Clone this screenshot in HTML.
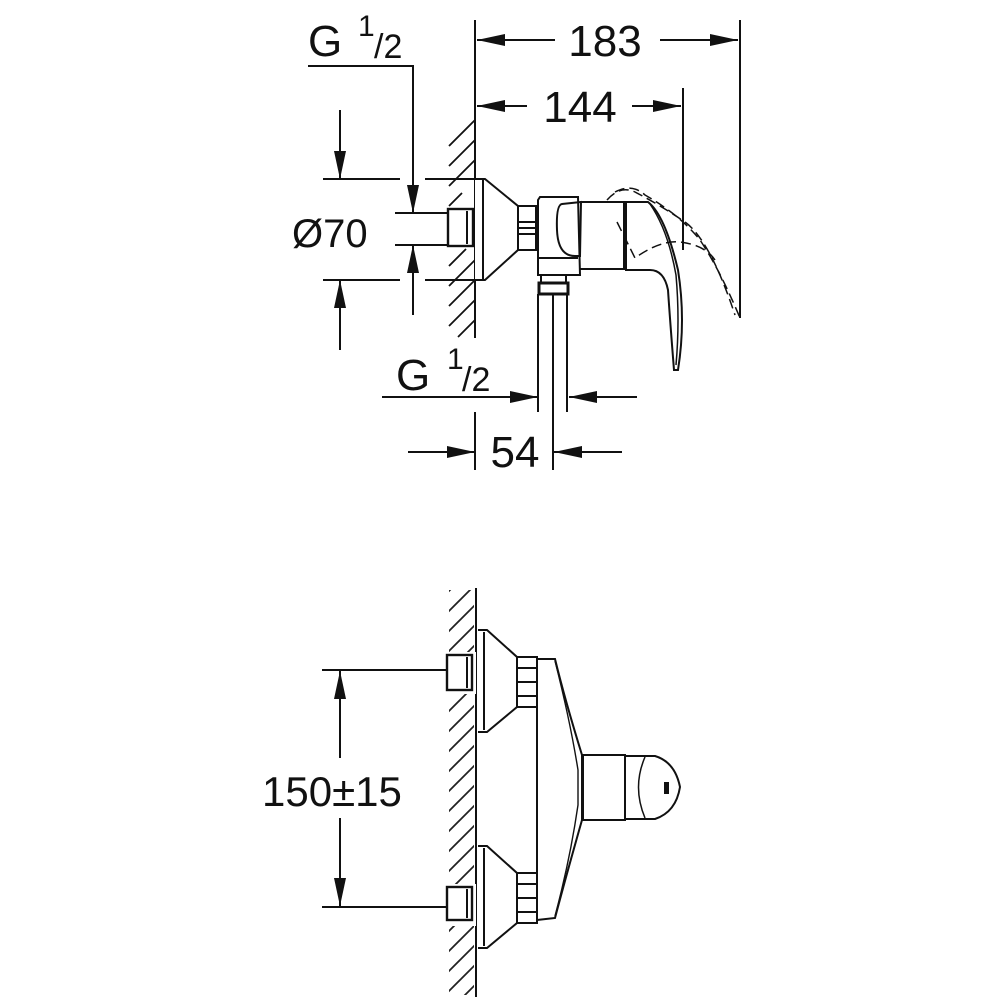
<!DOCTYPE html>
<html><head><meta charset="utf-8"><style>html,body{margin:0;padding:0;background:#fff}svg{display:block}text{font-family:"Liberation Sans",sans-serif;fill:#111}</style></head><body>
<svg width="1000" height="1000" viewBox="0 0 1000 1000" xmlns="http://www.w3.org/2000/svg">
<defs>
<marker id="a" viewBox="0 0 28 12" refX="28" refY="6" markerWidth="28" markerHeight="12" markerUnits="userSpaceOnUse" orient="auto"><path d="M0,0 L28,6 L0,12 Z" fill="#111"/></marker>
<pattern id="h" width="20" height="20" patternUnits="userSpaceOnUse"><line x1="0" y1="20" x2="20" y2="0" stroke="#222" stroke-width="1.8"/><line x1="-10" y1="10" x2="10" y2="-10" stroke="#222" stroke-width="1.8"/><line x1="10" y1="30" x2="30" y2="10" stroke="#222" stroke-width="1.8"/></pattern>
</defs>
<g stroke="#111" stroke-width="2" fill="none">
<!-- TOP: wall -->
<line x1="475" y1="120" x2="475" y2="338"/>
<g stroke-width="1.8">
<line x1="449" y1="146" x2="475" y2="120"/><line x1="449" y1="166" x2="475" y2="140"/><line x1="449" y1="186" x2="475" y2="160"/><line x1="449" y1="206" x2="462" y2="193"/>
<line x1="449" y1="266" x2="466" y2="249"/><line x1="449" y1="286" x2="475" y2="260"/><line x1="449" y1="306" x2="475" y2="280"/><line x1="449" y1="326" x2="475" y2="300"/><line x1="458" y1="337" x2="475" y2="320"/>
</g>
<!-- 183 -->
<line x1="475" y1="20" x2="475" y2="120"/><line x1="740" y1="20" x2="740" y2="318"/>
<line x1="555" y1="40" x2="477" y2="40" marker-end="url(#a)"/><line x1="660" y1="40" x2="738" y2="40" marker-end="url(#a)"/>
<!-- 144 -->
<line x1="683" y1="88" x2="683" y2="250"/>
<line x1="527" y1="106" x2="477" y2="106" marker-end="url(#a)"/><line x1="632" y1="106" x2="681" y2="106" marker-end="url(#a)"/>
<!-- G1/2 top leader -->
<polyline points="308,66 413,66 413,213" marker-end="url(#a)"/>
<line x1="413" y1="315" x2="413" y2="245" marker-end="url(#a)"/>
<line x1="340" y1="110" x2="340" y2="179" marker-end="url(#a)"/>
<line x1="340" y1="350" x2="340" y2="280" marker-end="url(#a)"/>
<line x1="323" y1="179" x2="400" y2="179"/><line x1="425" y1="179" x2="475" y2="179"/>
<line x1="323" y1="280" x2="400" y2="280"/><line x1="425" y1="280" x2="475" y2="280"/>
<line x1="395" y1="213" x2="450" y2="213"/><line x1="395" y1="245" x2="450" y2="245"/>
<!-- stub -->
<rect x="448" y="209" width="25" height="37" stroke-width="2.4" fill="#fff"/>
<line x1="467" y1="211" x2="467" y2="244"/>
<!-- flange -->
<path d="M475,179 L485,179 L518,206 L518,250 L485,280 L475,280" fill="#fff"/>
<line x1="483" y1="180" x2="483" y2="279"/>
<rect x="518" y="206" width="18" height="44"/><line x1="518" y1="228" x2="536" y2="228"/><line x1="518" y1="222" x2="536" y2="222"/><line x1="518" y1="234" x2="536" y2="234"/>
<!-- body -->
<path d="M540,197 L578,197 L580,275 L538,275 L538,200 Z"/>
<path d="M562,204 Q556,205 557,230 Q558,256 575,256 L580,256 L581,202 Z" fill="none"/>
<line x1="538" y1="258" x2="578" y2="258"/>
<rect x="541" y="275" width="25" height="8"/><rect x="539" y="283" width="29" height="11" stroke-width="3"/>
<line x1="538" y1="294" x2="538" y2="412"/><line x1="553" y1="294" x2="553" y2="470"/><line x1="567" y1="294" x2="567" y2="412"/>
<line x1="580" y1="202" x2="625" y2="202"/><line x1="580" y1="269" x2="625" y2="269"/>
<line x1="625" y1="202" x2="625" y2="270" stroke-width="4"/>
<path d="M625,202 L648,202 Q665,215 678,270 Q686,320 678,370 L674,370 Q670,320 668,290 Q664,270 650,270 L625,270"/>
<path d="M650,204 Q668,230 676,275 Q680,320 676,365" stroke-width="1.5"/>
<!-- dashed lever -->
<g stroke-dasharray="10,5" stroke-width="1.5">
<path d="M607,200 Q620,185 635,192 Q660,205 685,222 Q710,240 735,315"/>
<path d="M615,192 Q632,183 645,195 Q680,215 700,240 Q720,270 740,318"/>
<path d="M617,222 L635,258 Q660,240 680,242 Q705,245 715,260"/>
</g>
<!-- G1/2 bottom -->
<line x1="382" y1="397" x2="538" y2="397" marker-end="url(#a)"/>
<line x1="637" y1="397" x2="569" y2="397" marker-end="url(#a)"/>
<!-- 54 -->
<line x1="475" y1="412" x2="475" y2="470"/>
<line x1="408" y1="452" x2="475" y2="452" marker-end="url(#a)"/>
<line x1="622" y1="452" x2="554" y2="452" marker-end="url(#a)"/>

<!-- BOTTOM: wall -->
<line x1="476" y1="588" x2="476" y2="997"/>
<rect x="449" y="590" width="25" height="405" fill="url(#h)" stroke="none"/>
<rect x="446" y="652" width="30" height="42" fill="#fff" stroke="none"/>
<rect x="446" y="884" width="30" height="42" fill="#fff" stroke="none"/>
<!-- stubs -->
<rect x="447" y="655" width="25" height="35" stroke-width="2.4"/><line x1="467" y1="657" x2="467" y2="688"/>
<rect x="447" y="887" width="25" height="33" stroke-width="2.4"/><line x1="467" y1="889" x2="467" y2="918"/>
<!-- flanges -->
<path d="M478,630 L487,630 L517,657 L517,707 L487,732 L478,732"/><line x1="484" y1="632" x2="484" y2="730"/>
<path d="M478,846 L487,846 L517,873 L517,923 L487,948 L478,948"/><line x1="484" y1="848" x2="484" y2="946"/>
<rect x="517" y="657" width="20" height="50"/><line x1="517" y1="668" x2="537" y2="668"/><line x1="517" y1="682" x2="537" y2="682"/><line x1="517" y1="696" x2="537" y2="696"/>
<rect x="517" y="873" width="20" height="50"/><line x1="517" y1="884" x2="537" y2="884"/><line x1="517" y1="898" x2="537" y2="898"/><line x1="517" y1="912" x2="537" y2="912"/>
<!-- body -->
<line x1="537" y1="660" x2="537" y2="920"/>
<path d="M537,659 L555,659 Q565,700 582,755 L582,820 Q565,880 555,918 L537,920"/>
<path d="M555,661 Q570,720 578,770 L578,805 Q570,860 555,916" stroke-width="1.4"/>
<rect x="583" y="755" width="42" height="65"/>
<path d="M625,756 L655,756 Q675,762 680,787 Q676,812 655,819 L625,819 Z"/>
<path d="M645,757 Q632,787 645,818" stroke-width="1.5"/>
<rect x="665" y="783" width="3" height="10" fill="#111"/>
<!-- 150 dim -->
<line x1="322" y1="670" x2="447" y2="670"/><line x1="322" y1="907" x2="447" y2="907"/>
<line x1="340" y1="758" x2="340" y2="671" marker-end="url(#a)"/>
<line x1="340" y1="818" x2="340" y2="906" marker-end="url(#a)"/>
</g>
<g font-size="44">
<text x="605" y="56" text-anchor="middle">183</text>
<text x="580" y="122" text-anchor="middle">144</text>
<text x="308" y="56">G</text><text x="358" y="36" font-size="30">1</text><text x="374" y="58" font-size="34">/2</text>
<text x="292" y="247" font-size="40">Ø70</text>
<text x="396" y="390">G</text><text x="447" y="369" font-size="30">1</text><text x="462" y="391" font-size="34">/2</text>
<text x="515" y="467" text-anchor="middle">54</text>
<text x="262" y="806" font-size="42">150±15</text>
</g>
</svg>
</body></html>
